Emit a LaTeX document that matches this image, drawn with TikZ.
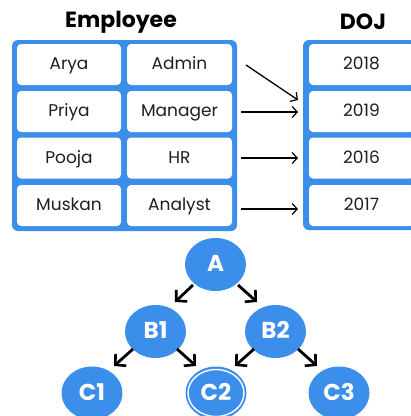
\documentclass[tikz,border=0pt]{standalone}
\usepackage{fontspec}
\setmainfont{Poppins}
\usetikzlibrary{arrows.meta,shapes.geometric}
\definecolor{bl}{RGB}{59,142,234}
\definecolor{tx}{RGB}{30,30,30}
\begin{document}
\begin{tikzpicture}[x=1pt,y=-1pt,
  outerbox/.style={fill=bl,rounded corners=6pt,inner sep=0pt},
  cell/.style={fill=white,rounded corners=4pt,inner sep=0pt,minimum height=41pt,
    minimum width=#1,text=tx,font=\fontsize{17}{19}\selectfont,
    text height=10.5pt,text depth=0pt},
  title/.style={font=\fontsize{22}{24}\selectfont\bfseries,text=black},
  maparrow/.style={line width=1.3pt,-{Straight Barb[length=5pt,width=11pt,line width=1.2pt]}},
  tnode/.style={ellipse,fill=bl,inner sep=0pt,minimum width=61pt,minimum height=53pt,
    text=white,font=\fontsize{23}{25}\selectfont\bfseries,text height=14pt,text depth=0pt},
  tarrow/.style={line width=2.8pt,-{Straight Barb[length=7.5pt,width=16pt,line width=2.6pt]}}]
\useasboundingbox (0,0) rectangle (411,416);
% titles
\node[title] (tEmp) at (121,22) {Employee};
\node[title] (tDoj) at (363,22) {DOJ};
% outer boxes
\node[outerbox,minimum width=225pt,minimum height=191pt] (emp) at (124.5,135.5) {};
\node[outerbox,minimum width=120pt,minimum height=190pt] (doj) at (363,135) {};
% employee cells
\node[cell=104pt] (n1) at (69,64.5) {Arya};
\node[cell=104pt] (n2) at (69,111.5) {Priya};
\node[cell=104pt] (n3) at (69,158) {Pooja};
\node[cell=104pt] (n4) at (69,205.5) {Muskan};
\node[cell=105pt] (r1) at (179.5,64.5) {Admin};
\node[cell=105pt] (r2) at (179.5,111.5) {Manager};
\node[cell=105pt] (r3) at (179.5,158) {HR};
\node[cell=105pt] (r4) at (179.5,205.5) {Analyst};
% doj cells
\node[cell=105pt] (d1) at (361.5,64.5) {2018};
\node[cell=105pt] (d2) at (361.5,111.5) {2019};
\node[cell=105pt] (d3) at (361.5,158) {2016};
\node[cell=105pt] (d4) at (361.5,205.5) {2017};
% mapping arrows
\coordinate (s1) at (246,65);  \coordinate (e1) at (298,100);
\coordinate (s2) at (241,112); \coordinate (e2) at (298,112);
\coordinate (s3) at (241,158); \coordinate (e3) at (298,158);
\coordinate (s4) at (241,209); \coordinate (e4) at (298,209);
\draw[maparrow] (s1) -- (e1);
\draw[maparrow] (s2) -- (e2);
\draw[maparrow] (s3) -- (e3);
\draw[maparrow] (s4) -- (e4);
% tree
\node[tnode] (A) at (215.5,264.5) {A};
\node[tnode] (B1) at (155.5,331.5) {B1};
\node[tnode] (B2) at (275.5,331.5) {B2};
\node[tnode] (C1) at (92,393) {C1};
\node[tnode] (C2) at (216,393) {C2};
\node[tnode] (C3) at (339,393) {C3};
\draw[white,line width=1.4pt] (C2.center) ellipse [x radius=28pt,y radius=23.5pt];
\coordinate (a1s) at (193,285); \coordinate (a1e) at (175,302);
\coordinate (a2s) at (238,285); \coordinate (a2e) at (257,302);
\coordinate (b1s) at (133,349); \coordinate (b1e) at (114,366);
\coordinate (b2s) at (177,349); \coordinate (b2e) at (196,366);
\coordinate (b3s) at (254,349); \coordinate (b3e) at (235,366);
\coordinate (b4s) at (298,349); \coordinate (b4e) at (317,366);
\draw[tarrow] (a1s) -- (a1e);
\draw[tarrow] (a2s) -- (a2e);
\draw[tarrow] (b1s) -- (b1e);
\draw[tarrow] (b2s) -- (b2e);
\draw[tarrow] (b3s) -- (b3e);
\draw[tarrow] (b4s) -- (b4e);
\end{tikzpicture}
\end{document}
